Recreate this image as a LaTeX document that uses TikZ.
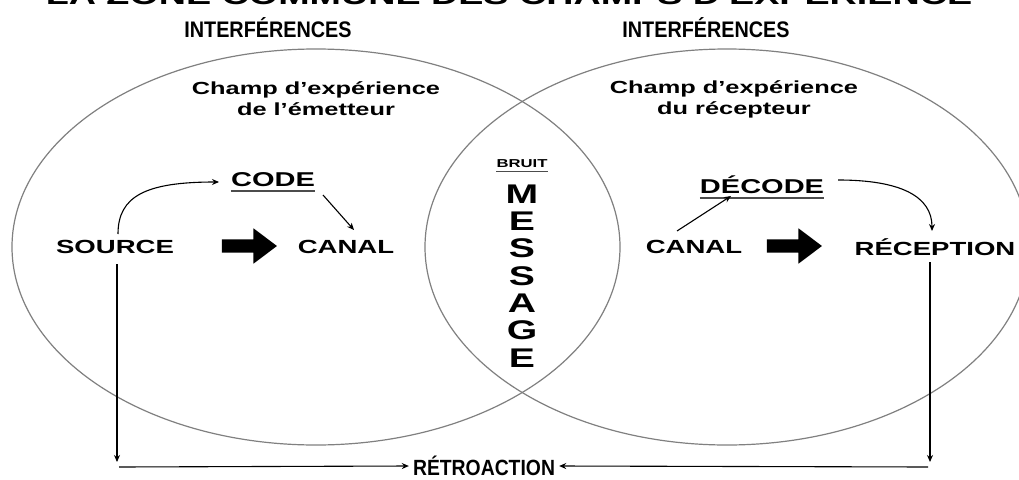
\documentclass[tikz,border=0pt]{standalone}
\usepackage{fontspec}
\setmainfont{Liberation Sans}
\newfontfamily\widefont{Liberation Sans}[FakeStretch=1.45]
\newfontfamily\narrowfont{Liberation Sans}[FakeStretch=0.88]
\usetikzlibrary{arrows.meta,shapes.arrows}
\begin{document}
\begin{tikzpicture}[x=1pt,y=-1pt,
  field/.style={draw=black!50, line width=1.2pt},
  lbl/.style={inner sep=0pt, font=\widefont\bfseries\fontsize{19}{22}\selectfont},
  sub/.style={inner sep=0pt, font=\widefont\bfseries\fontsize{20}{22}\selectfont},
  head/.style={inner sep=0pt, font=\narrowfont\bfseries\fontsize{22.5}{24}\selectfont},
  champ/.style={inner sep=0pt, align=center, font=\widefont\bfseries\fontsize{17.5}{21}\selectfont},
  letter/.style={inner sep=0pt, font=\widefont\bfseries\fontsize{27}{27}\selectfont},
  conn/.style={draw=black, line width=1.1pt, -{Stealth[length=7pt,width=6pt]}},
  uline/.style={draw=black!70, line width=2pt},
  fat/.style={single arrow, fill=black, draw=none, inner sep=6.5pt,
    minimum height=55pt, single arrow head extend=11pt, single arrow tip angle=74}
]
\useasboundingbox (0,0) rectangle (1019,479);
\fill[white] (0,0) rectangle (1019,479);
\begin{scope}
\clip (0,0) rectangle (1019,479);
% cut-off title
\node[anchor=base, inner sep=0pt, font=\widefont\bfseries\fontsize{26}{26}\selectfont] (title) at (509,5) {LA ZONE COMMUNE DES CHAMPS D'EXPÉRIENCE};
% fields of experience
\draw[field] (316,247) ellipse [x radius=304, y radius=198];
\draw[field] (727,247) ellipse [x radius=302, y radius=198];
\end{scope}

\node[head] (int1) at (268,28) {INTERFÉRENCES};
\node[head] (int2) at (706,28) {INTERFÉRENCES};

\node[champ] (ch1) at (316,99) {Champ d’expérience\\de l’émetteur};
\node[champ] (ch2) at (734,99) {Champ d’expérience\\du récepteur};

% message zone
\node[inner sep=0pt, font=\widefont\bfseries\fontsize{11.5}{12}\selectfont] (bruit) at (522,164) {BRUIT};
\draw[uline, line width=1.3pt] ([yshift=-3pt]bruit.south west) -- ([yshift=-3pt]bruit.south east);
\node[letter] (m1) at (522,194) {M};
\node[letter] (m2) at (522,221.3) {E};
\node[letter] (m3) at (522,248.6) {S};
\node[letter] (m4) at (522,276) {S};
\node[letter] (m5) at (522,303.3) {A};
\node[letter] (m6) at (522,330.6) {G};
\node[letter] (m7) at (522,358) {E};

% sender side
\node[lbl] (source) at (115,247) {SOURCE};
\node[fat] (fa1) at (245,246) {};
\node[lbl] (canal1) at (346,247) {CANAL};
\node[sub] (code) at (273,180) {CODE};
\draw[uline] ([yshift=-3.5pt]code.south west) -- ([yshift=-3.5pt]code.south east);

% receiver side
\node[lbl] (canal2) at (694,247) {CANAL};
\node[fat] (fa2) at (790,246) {};
\node[lbl] (recep) at (935,247) {RÉCEPTION};
\node[sub] (decode) at (762,185) {DÉCODE};
\draw[uline] ([yshift=-3.5pt]decode.south west) -- ([yshift=-3.5pt]decode.south east);

% connector end points
\coordinate (s1) at (118,234);
\coordinate (c1) at (219,182);
\coordinate (c2) at (323,195);
\coordinate (k1) at (354,230);
\coordinate (k2) at (677,231);
\coordinate (d1) at (731,196);
\coordinate (d2) at (838,180);
\coordinate (r1) at (932,231);

\draw[conn] (s1) .. controls (118,196) and (146,182) .. (c1);
\draw[conn] (c2) -- (k1);
\draw[conn] (k2) -- (d1);
\draw[conn] (d2) .. controls (900,180) and (932,196) .. (r1);

% feedback
\node[inner sep=0pt, font=\narrowfont\bfseries\fontsize{22}{24}\selectfont] (retro) at (484,466) {RÉTROACTION};
\coordinate (sL) at (117,264);
\coordinate (bL) at (117,462);
\coordinate (hL) at (119,467);
\coordinate (sR) at (930,262);
\coordinate (bR) at (930,462);
\coordinate (hR) at (928,467);
\draw[conn] (sL) -- (bL);
\draw[conn] (sR) -- (bR);
\draw[conn] (hL) -- ([xshift=-4pt]retro.west);
\draw[conn] (hR) -- ([xshift=4pt]retro.east);
\end{tikzpicture}
\end{document}
